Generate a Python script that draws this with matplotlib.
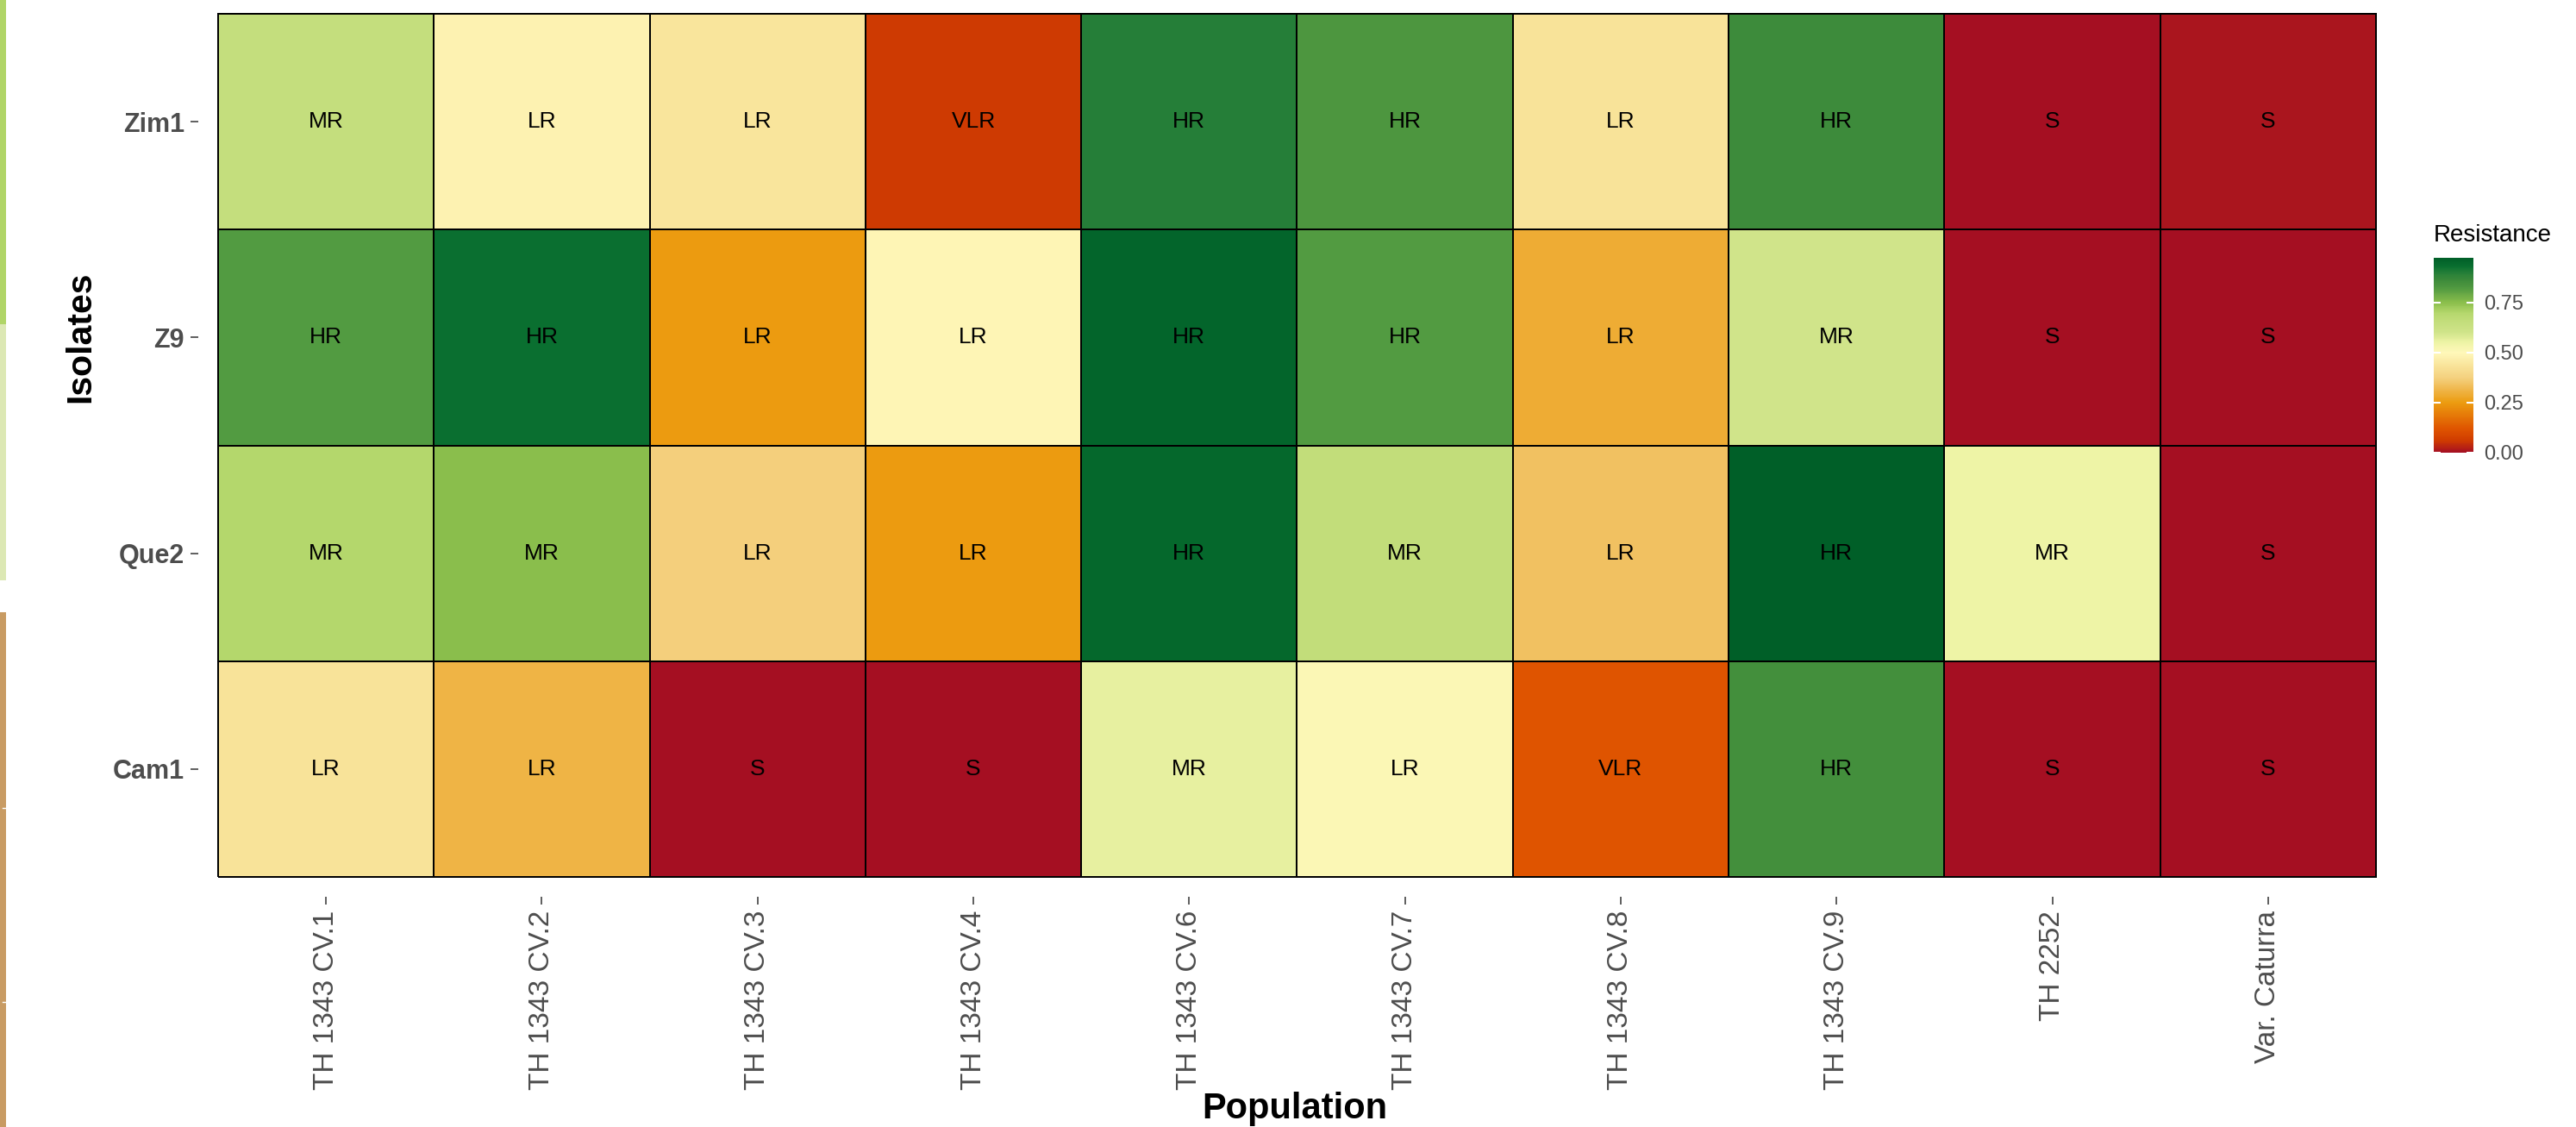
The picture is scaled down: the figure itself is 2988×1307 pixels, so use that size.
import numpy as np
import matplotlib
matplotlib.use("Agg")
import matplotlib.pyplot as plt
from matplotlib.colors import LinearSegmentedColormap, Normalize
from matplotlib.patches import Rectangle
from matplotlib.lines import Line2D

plt.rcParams['font.family'] = ['Liberation Sans', 'DejaVu Sans']

# ---------------- data ----------------
populations = ["TH 1343 CV.1", "TH 1343 CV.2", "TH 1343 CV.3", "TH 1343 CV.4",
               "TH 1343 CV.6", "TH 1343 CV.7", "TH 1343 CV.8", "TH 1343 CV.9",
               "TH 2252", "Var. Caturra"]
isolates = ["Zim1", "Z9", "Que2", "Cam1"]          # top to bottom

zim1 = [0.65, 0.48, 0.44, 0.06, 0.90, 0.83, 0.43, 0.86, 0.00, 0.01]
z9   = [0.82, 0.93, 0.25, 0.49, 0.955, 0.82, 0.29, 0.60, 0.00, 0.00]
que2 = [0.70, 0.75, 0.37, 0.25, 0.95, 0.66, 0.34, 0.974, 0.55, 0.00]
cam1 = [0.43, 0.31, 0.00, 0.00, 0.56, 0.51, 0.12, 0.85, 0.00, 0.00]

zim1_cls = ["MR", "LR", "LR", "VLR", "HR", "HR", "LR", "HR", "S", "S"]
z9_cls   = ["HR", "HR", "LR", "LR", "HR", "HR", "LR", "MR", "S", "S"]
que2_cls = ["MR", "MR", "LR", "LR", "HR", "MR", "LR", "HR", "MR", "S"]
cam1_cls = ["LR", "LR", "S", "S", "MR", "LR", "VLR", "HR", "S", "S"]

cbar_ticks = [0.00, 0.25, 0.50, 0.75]
cbar_ticklabels = ["0.00", "0.25", "0.50", "0.75"]

values = np.array([zim1, z9, que2, cam1])
classes = [zim1_cls, z9_cls, que2_cls, cam1_cls]

# ---------------- colour scale ----------------
vmax = values.max()
stops = [(0.00, "#A50F22"), (0.06, "#D03C00"), (0.12, "#DF5500"), (0.25, "#EC9C10"),
         (0.31, "#EFB446"), (0.37, "#F4CF7C"), (0.43, "#F8E298"), (0.50, "#FFF8BA"),
         (0.55, "#EEF4A6"), (0.60, "#D0E48A"), (0.66, "#C2DD7A"), (0.70, "#B4D76C"),
         (0.75, "#8CBF4C"), (0.82, "#539B41"), (0.86, "#3F8C3B"), (0.90, "#267F38"),
         (0.93, "#0A7030"), (vmax, "#005F28")]
cmap = LinearSegmentedColormap.from_list("res", [(s / vmax, c) for s, c in stops])
norm = Normalize(0, vmax)

# ---------------- figure ----------------
W, H, dpi = 2988, 1307, 100
fig = plt.figure(figsize=(W / dpi, H / dpi), dpi=dpi)
fig.patch.set_facecolor("white")

# left-edge strips (screenshot decoration)
for y0, y1, col in [(0, 376, "#B0D567"), (376, 673, "#DCE8B4"), (710, 1307, "#C89B63")]:
    fig.patches.append(Rectangle((0, 1 - y1 / H), 7 / W, (y1 - y0) / H,
                                 transform=fig.transFigure, facecolor=col,
                                 edgecolor="none"))
for yy in (937, 1162):
    fig.lines.append(Line2D([3 / W, 7 / W], [1 - yy / H, 1 - yy / H],
                            transform=fig.transFigure, color="white", lw=1))

ax = fig.add_axes([230 / W, 1 - 1040 / H, (2779 - 230) / W, (1040 + 7) / H])
ny, nx = values.shape
mesh = ax.pcolormesh(np.arange(nx + 1) - 0.5, np.arange(ny + 1) - 0.5,
                     values[::-1], cmap=cmap, norm=norm,
                     edgecolors="black", linewidth=1.3)
d = 0.092
ax.set_xlim(-0.5 - d, nx - 0.5 + d)
ax.set_ylim(-0.5 - d, ny - 0.5 + d)
for s in ax.spines.values():
    s.set_visible(False)

for i in range(ny):
    for j in range(nx):
        ax.text(j, ny - 1 - i, classes[i][j], ha="center", va="center",
                fontsize=19, color="black",
                family=["Liberation Sans Narrow", "Liberation Sans", "DejaVu Sans"])

ax.set_xticks(range(nx))
ax.set_xticklabels(populations, rotation=90, fontsize=24, color="#4D4D4D")
ax.set_yticks(range(ny))
ax.set_yticklabels(isolates[::-1], fontsize=22, fontweight="bold", color="#4D4D4D")
ax.tick_params(axis="both", length=6.5, width=1.1, color="#333333", pad=5)

fig.text(1502 / W, 1 - 1297 / H, "Population", ha="center", va="baseline",
         fontsize=30, fontweight="bold", color="black")
fig.text(93 / W, 1 - 391 / H, "Isolates", ha="center", va="center", rotation=90,
         fontsize=29.5, fontweight="bold", color="black")

# colour bar
cax = fig.add_axes([2823 / W, 1 - 525 / H, 46 / W, 226 / H])
cb = fig.colorbar(mesh, cax=cax)
cb.outline.set_visible(False)
cb.set_ticks(cbar_ticks)
cb.set_ticklabels(cbar_ticklabels)
cb.minorticks_off()
cax.tick_params(axis="y", which="major", direction="in", length=6, width=1.5,
                color="white", labelcolor="#4D4D4D", left=True, right=True,
                labelsize=17, pad=9)
fig.text(2823 / W, 1 - 273 / H, "Resistance", ha="left", va="center",
         fontsize=20, color="black")

fig.savefig("out.png", dpi=dpi)
